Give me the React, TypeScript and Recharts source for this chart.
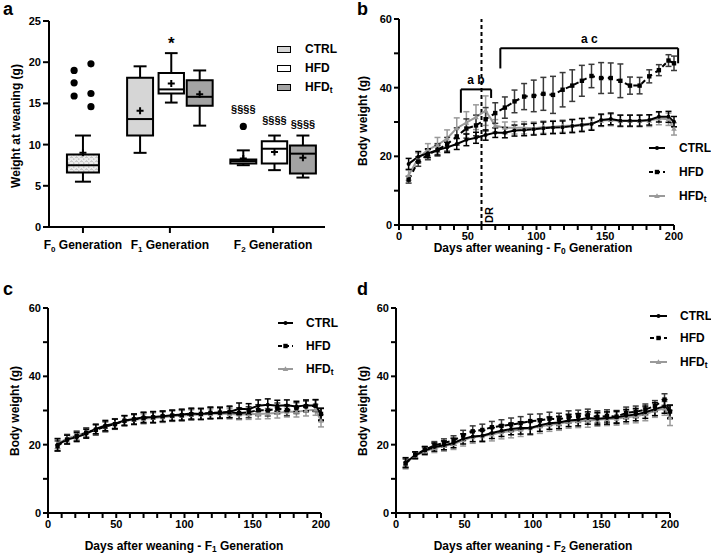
import React from 'react';
import {
  ComposedChart,
  LineChart,
  Line,
  XAxis,
  YAxis,
  ReferenceArea,
  ReferenceLine,
  Scatter,
  ErrorBar,
} from 'recharts';

const FONT = '"Liberation Sans", Arial, Helvetica, sans-serif';

// ---------- panel a: weight at weaning (box plots) ----------
const generations = ['F0', 'F1', 'F2'];

const boxStats = [
  { gen: 'F0', group: 'pooled', min: 5.5, q1: 6.6, median: 7.5, q3: 8.8, max: 11.1, mean: 9.0 },
  { gen: 'F1', group: 'CTRL', min: 9.0, q1: 11.1, median: 13.1, q3: 18.1, max: 19.5, mean: 14.1 },
  { gen: 'F1', group: 'HFD', min: 15.1, q1: 16.2, median: 16.7, q3: 18.7, max: 21.1, mean: 17.4 },
  { gen: 'F1', group: 'HFDt', min: 12.3, q1: 14.7, median: 15.8, q3: 17.8, max: 19.0, mean: 16.1 },
  { gen: 'F2', group: 'CTRL', min: 7.5, q1: 7.7, median: 8.0, q3: 8.2, max: 9.3, mean: 8.3 },
  { gen: 'F2', group: 'HFD', min: 6.9, q1: 7.7, median: 9.5, q3: 10.4, max: 11.1, mean: 9.1 },
  { gen: 'F2', group: 'HFDt', min: 6.0, q1: 6.5, median: 8.9, q3: 9.9, max: 11.1, mean: 8.4 },
];

const f0Outliers = [19.0, 17.5, 15.9, 19.8, 16.2, 14.6];
const f2CtrlOutliers = [12.2];

const significance = [
  { gen: 'F1', group: 'HFD', y: 22.6, text: '*' },
  { gen: 'F2', group: 'CTRL', y: 14.3, text: '§§§§' },
  { gen: 'F2', group: 'HFD', y: 13.0, text: '§§§§' },
  { gen: 'F2', group: 'HFDt', y: 12.5, text: '§§§§' },
];

// layout of the box plot on a 0..100 x scale
const genCenter: Record<string, number> = { F0: 12.3, F1: 43.8, F2: 81.2 };
const groupOffset: Record<string, number> = { pooled: 0, CTRL: -10.8, HFD: 0.5, HFDt: 10.8 };
const boxHalf: Record<string, number> = { pooled: 5.8, CTRL: 4.7, HFD: 4.6, HFDt: 4.7 };
const boxFill: Record<string, string> = {
  pooled: 'url(#f0dots)',
  CTRL: '#d6d6d6',
  HFD: '#ffffff',
  HFDt: '#a3a3a3',
};

// ---------- panels b-d: body weight curves ----------
const days = [7, 14, 21, 28, 35, 42, 49, 56, 63, 70, 77, 84, 91, 98, 105, 112, 119, 126, 133, 140, 147, 154, 161, 168, 175, 182, 189, 196, 200];
const dayTicks = [0, 10, 20, 30, 40, 50, 60, 70, 80, 90, 100, 110, 120, 130, 140, 150, 160, 170, 180, 190, 200];
const weightTicks = [0, 10, 20, 30, 40, 50, 60];

// F0
const ctrlF0 = [17.8, 19.9, 20.9, 21.8, 22.6, 23.6, 24.8, 25.4, 26.2, 26.9, 26.9, 27.5, 27.7, 27.9, 28.2, 28.4, 28.5, 28.8, 29.1, 29.4, 30.6, 30.9, 30.4, 30.4, 30.4, 30.6, 31.5, 31.5, 30.1];
const ctrlF0Err = [1.6, 1.5, 1.3, 1.4, 1.5, 1.6, 1.7, 1.6, 1.5, 1.4, 1.5, 1.6, 1.7, 1.7, 1.8, 1.8, 1.8, 1.9, 1.9, 1.8, 1.7, 1.7, 1.6, 1.6, 1.6, 1.5, 1.5, 1.6, 1.5];
const hfdF0 = [13.2, 18.5, 20.5, 21.9, 23.5, 25.8, 28.1, 29.0, 30.8, 32.6, 34.2, 36.0, 37.4, 37.6, 38.2, 37.9, 39.4, 40.6, 42.0, 43.4, 42.8, 42.8, 42.0, 40.6, 40.6, 43.3, 45.1, 47.9, 47.1];
const hfdF0Err = [1.0, 1.4, 1.5, 1.8, 2.0, 2.5, 2.8, 3.0, 3.4, 3.0, 3.1, 3.3, 3.8, 4.6, 4.8, 5.4, 5.0, 4.6, 4.5, 3.4, 4.5, 4.4, 4.9, 2.5, 2.4, 1.9, 1.6, 1.7, 2.1];
const hfdtF0 = [14.5, 19.5, 21.9, 23.3, 25.2, 28.2, 29.8, 31.4, 33.3, 28.9, 28.3, 28.3, 28.3, 28.2, 28.5, 28.6, 28.8, 29.0, 29.3, 29.6, 30.4, 30.6, 30.3, 30.3, 30.3, 30.4, 31.0, 30.8, 28.0];
const hfdtF0Err = [1.5, 1.5, 1.8, 2.2, 2.5, 3.0, 3.2, 3.6, 4.3, 1.8, 1.7, 1.8, 1.8, 1.8, 1.8, 1.8, 1.8, 1.8, 1.8, 1.8, 1.7, 1.7, 1.7, 1.7, 1.7, 1.7, 1.8, 1.8, 1.8];

// F1
const ctrlF1 = [20.0, 21.5, 22.2, 23.2, 24.6, 25.6, 26.1, 27.1, 27.5, 28.0, 28.1, 28.3, 28.6, 28.8, 29.1, 29.0, 29.3, 29.3, 29.6, 30.5, 30.4, 31.4, 31.7, 31.4, 31.5, 31.2, 31.5, 31.5, 28.8];
const ctrlF1Err = [1.8, 1.3, 1.3, 1.3, 1.4, 1.5, 1.4, 1.4, 1.5, 1.5, 1.6, 1.5, 1.5, 1.6, 1.6, 1.6, 1.7, 1.6, 1.7, 1.7, 1.6, 1.7, 1.7, 1.6, 1.6, 1.5, 1.6, 1.7, 1.8];
const hfdF1 = [19.6, 21.5, 22.5, 23.5, 24.3, 25.3, 26.0, 27.0, 27.4, 27.8, 28.0, 28.3, 28.5, 28.6, 28.9, 29.0, 29.3, 29.4, 29.5, 29.2, 29.5, 30.1, 30.0, 30.6, 30.1, 30.7, 31.2, 31.4, 29.0];
const hfdF1Err = [1.5, 1.3, 1.4, 1.4, 1.5, 1.5, 1.5, 1.5, 1.5, 1.6, 1.6, 1.6, 1.6, 1.6, 1.6, 1.6, 1.6, 1.6, 1.6, 1.6, 1.6, 1.6, 1.6, 1.6, 1.6, 1.6, 1.6, 1.7, 1.7];
const hfdtF1 = [20.2, 21.8, 22.7, 23.6, 24.5, 25.2, 26.2, 27.0, 27.3, 27.6, 27.8, 28.0, 28.3, 28.5, 28.7, 28.8, 29.0, 29.1, 29.0, 28.8, 28.9, 29.0, 29.1, 29.3, 29.6, 29.6, 30.0, 30.2, 27.0];
const hfdtF1Err = [1.4, 1.3, 1.3, 1.3, 1.4, 1.4, 1.4, 1.4, 1.4, 1.4, 1.5, 1.5, 1.5, 1.5, 1.5, 1.5, 1.5, 1.5, 1.5, 1.5, 1.5, 1.5, 1.5, 1.5, 1.5, 1.5, 1.6, 1.6, 1.8];

// F2
const ctrlF2 = [14.8, 16.9, 18.3, 19.3, 19.8, 20.5, 21.7, 22.4, 22.6, 23.4, 24.1, 24.6, 24.9, 24.9, 25.7, 26.3, 26.5, 27.1, 27.3, 27.8, 27.6, 27.8, 28.0, 28.5, 28.8, 29.5, 30.4, 31.2, 29.6];
const ctrlF2Err = [1.4, 1.0, 1.1, 1.2, 1.3, 1.4, 1.5, 1.5, 1.6, 1.6, 1.7, 1.7, 1.8, 1.8, 1.8, 1.8, 1.8, 1.8, 1.8, 1.8, 1.8, 1.8, 1.8, 1.8, 1.8, 1.8, 1.9, 2.0, 2.0];
const hfdF2 = [14.5, 17.0, 18.5, 19.8, 20.5, 21.2, 22.7, 23.9, 24.3, 25.1, 25.5, 25.9, 26.3, 26.9, 27.1, 27.6, 27.4, 28.1, 28.3, 28.6, 28.1, 28.4, 28.2, 29.3, 29.6, 30.3, 31.3, 33.2, 29.7];
const hfdF2Err = [1.3, 0.9, 1.0, 1.1, 1.2, 1.4, 1.5, 1.6, 1.7, 1.7, 1.8, 1.9, 1.9, 2.0, 1.9, 1.9, 1.8, 1.8, 1.8, 1.8, 1.8, 1.8, 1.8, 1.7, 1.7, 1.6, 1.6, 1.7, 1.8];
const hfdtF2 = [14.5, 16.8, 18.0, 19.0, 19.6, 20.2, 21.3, 22.2, 22.5, 23.0, 23.6, 24.0, 24.4, 24.8, 25.3, 25.8, 26.1, 26.7, 26.9, 27.0, 27.3, 27.5, 27.6, 28.0, 28.3, 28.9, 30.0, 30.6, 27.8];
const hfdtF2Err = [1.6, 1.0, 1.1, 1.3, 1.5, 1.6, 1.7, 1.8, 1.8, 1.9, 1.9, 2.0, 2.0, 2.0, 2.0, 1.9, 1.9, 1.9, 1.9, 1.9, 1.9, 1.9, 1.9, 1.9, 1.9, 1.9, 2.0, 2.0, 2.2];

// brackets and marks on panel b
const dietReversalDay = 60;
const brackets = [
  { text: 'a b', x1: 45, x2: 67, top: 39.5, leftEnd: 32.7, rightEnd: 37.0 },
  { text: 'a c', x1: 73.7, x2: 203, top: 51.5, leftEnd: 45.6, rightEnd: 47.1 },
];

const buildRows = (ctrl: number[], ctrlErr: number[], hfd: number[], hfdErr: number[], hfdt: number[], hfdtErr: number[]) =>
  days.map((day, i) => ({
    day,
    ctrl: ctrl[i],
    ctrlErr: ctrlErr[i],
    hfd: hfd[i],
    hfdErr: hfdErr[i],
    hfdt: hfdt[i],
    hfdtErr: hfdtErr[i],
  }));

const axisLine = { stroke: '#000', strokeWidth: 2 };
const tickStyle = { fontSize: 11, fontWeight: 700, fill: '#000', fontFamily: FONT };

const Sub = ({ children }: { children: React.ReactNode }) => (
  <sub style={{ fontSize: '0.7em', verticalAlign: '-0.25em', lineHeight: 0 }}>{children}</sub>
);

const CtrlDot = (props: any) => {
  const { cx, cy } = props;
  if (cx == null || cy == null) return null;
  return <circle cx={cx} cy={cy} r={2} fill="#000" />;
};

const HfdDot = (props: any) => {
  const { cx, cy } = props;
  if (cx == null || cy == null) return null;
  return <rect x={cx - 2.2} y={cy - 2.2} width={4.4} height={4.4} fill="#000" />;
};

const HfdtDot = (props: any) => {
  const { cx, cy } = props;
  if (cx == null || cy == null) return null;
  return <path d={`M${cx},${cy - 2.8}L${cx + 2.8},${cy + 2}L${cx - 2.8},${cy + 2}Z`} fill="#999" />;
};

const GenTick = (props: any) => {
  const { x, y, payload } = props;
  const gen = generations.find((g) => Math.abs(genCenter[g] - payload.value) < 0.01) || '';
  return (
    <text x={x} y={y + 14} textAnchor="middle" fontSize={12} fontWeight={700} fontFamily={FONT} fill="#000">
      F<tspan dy={3} fontSize={8}>{gen.slice(1)}</tspan>
      <tspan dy={-3}> Generation</tspan>
    </text>
  );
};

const PlusShape = (props: any) => {
  const { cx, cy } = props;
  return <path d={`M${cx - 3.5},${cy}h7M${cx},${cy - 3.5}v7`} stroke="#000" strokeWidth={2} />;
};

const OutlierShape = (props: any) => <circle cx={props.cx} cy={props.cy} r={3.6} fill="#000" />;

const SigShape = (props: any) => {
  const { cx, cy, payload } = props;
  const star = payload.text === '*';
  return (
    <text
      x={cx}
      y={star ? cy + 3 : cy}
      textAnchor="middle"
      dominantBaseline="central"
      fontSize={star ? 17 : 11}
      fontWeight={700}
      fontFamily={FONT}
      fill="#000"
    >
      {payload.text}
    </text>
  );
};

function WeaningPanel() {
  const pos = (b: { gen: string; group: string }) => genCenter[b.gen] + groupOffset[b.group];
  const meanPoints = boxStats.map((b) => ({ x: pos(b), y: b.mean }));
  const outlierPoints = [
    ...f0Outliers.map((v, i) => ({ x: genCenter.F0 + (i < 3 ? -3.2 : 2.9), y: v })),
    ...f2CtrlOutliers.map((v) => ({ x: genCenter.F2 + groupOffset.CTRL, y: v })),
  ];
  const sigPoints = significance.map((s) => ({ x: pos(s), y: s.y, text: s.text }));

  const boxParts = boxStats.flatMap((b, i) => {
    const c = pos(b);
    const h = boxHalf[b.group];
    const cap = h / 2;
    const line = { stroke: '#000', strokeWidth: 2 };
    return [
      <ReferenceLine key={`wl${i}`} segment={[{ x: c, y: b.min }, { x: c, y: b.q1 }]} {...line} />,
      <ReferenceLine key={`wu${i}`} segment={[{ x: c, y: b.q3 }, { x: c, y: b.max }]} {...line} />,
      <ReferenceLine key={`cl${i}`} segment={[{ x: c - cap, y: b.min }, { x: c + cap, y: b.min }]} {...line} />,
      <ReferenceLine key={`cu${i}`} segment={[{ x: c - cap, y: b.max }, { x: c + cap, y: b.max }]} {...line} />,
      <ReferenceArea
        key={`bx${i}`}
        x1={c - h}
        x2={c + h}
        y1={b.q1}
        y2={b.q3}
        fill={boxFill[b.group]}
        fillOpacity={1}
        stroke="#000"
        strokeWidth={2}
      />,
      <ReferenceLine key={`md${i}`} segment={[{ x: c - h, y: b.median }, { x: c + h, y: b.median }]} {...line} />,
    ];
  });

  return (
    <ComposedChart width={355} height={275} margin={{ top: 21, right: 30, bottom: 18, left: 0 }}>
      <XAxis
        type="number"
        dataKey="x"
        domain={[0, 100]}
        ticks={generations.map((g) => genCenter[g])}
        tick={<GenTick />}
        axisLine={axisLine}
        tickLine={axisLine}
        tickSize={6}
        interval={0}
        height={30}
      />
      <YAxis
        type="number"
        dataKey="y"
        domain={[0, 25]}
        ticks={[0, 5, 10, 15, 20, 25]}
        width={49}
        axisLine={axisLine}
        tickLine={axisLine}
        tickSize={6}
        tick={tickStyle}
        interval={0}
      />
      {boxParts}
      <Scatter data={meanPoints} shape={<PlusShape />} isAnimationActive={false} />
      <Scatter data={outlierPoints} shape={<OutlierShape />} isAnimationActive={false} />
      <Scatter data={sigPoints} shape={<SigShape />} isAnimationActive={false} />
    </ComposedChart>
  );
}

type CurveProps = {
  rows: ReturnType<typeof buildRows>;
  margin: { top: number; right: number; bottom: number; left: number };
  yWidth: number;
  children?: React.ReactNode;
};

function CurvePanel({ rows, margin, yWidth, children }: CurveProps) {
  return (
    <LineChart width={355} height={275} data={rows} margin={margin}>
      <XAxis
        type="number"
        dataKey="day"
        domain={[0, 200]}
        ticks={dayTicks}
        interval={0}
        tickFormatter={(v: number) => (v % 50 === 0 ? String(v) : '')}
        axisLine={axisLine}
        tickLine={axisLine}
        tickSize={5}
        tick={tickStyle}
        height={30}
      />
      <YAxis
        type="number"
        domain={[0, 60]}
        ticks={weightTicks}
        interval={0}
        tickFormatter={(v: number) => (v % 20 === 0 ? String(v) : '')}
        width={yWidth}
        axisLine={axisLine}
        tickLine={axisLine}
        tickSize={5}
        tick={tickStyle}
      />
      {children}
      <Line
        dataKey="hfdt"
        stroke="#9a9a9a"
        strokeWidth={2}
        dot={<HfdtDot />}
        activeDot={false}
        isAnimationActive={false}
      >
        <ErrorBar dataKey="hfdtErr" width={3} stroke="#9a9a9a" strokeWidth={1.5} direction="y" />
      </Line>
      <Line
        dataKey="hfd"
        stroke="#000"
        strokeWidth={2}
        strokeDasharray="5 4"
        dot={<HfdDot />}
        activeDot={false}
        isAnimationActive={false}
      >
        <ErrorBar dataKey="hfdErr" width={3} stroke="#3a3a3a" strokeWidth={1.5} direction="y" />
      </Line>
      <Line
        dataKey="ctrl"
        stroke="#000"
        strokeWidth={2}
        dot={<CtrlDot />}
        activeDot={false}
        isAnimationActive={false}
      >
        <ErrorBar dataKey="ctrlErr" width={3} stroke="#000" strokeWidth={1.5} direction="y" />
      </Line>
    </LineChart>
  );
}

const LegendIcon = ({ kind, w }: { kind: string; w: number }) => {
  const m = w / 2;
  return (
    <svg width={w} height={8} style={{ display: 'block' }}>
      {kind === 'CTRL' && (
        <>
          <line x1={0} y1={4} x2={w} y2={4} stroke="#000" strokeWidth={2} />
          <circle cx={m} cy={4} r={2} fill="#000" />
        </>
      )}
      {kind === 'HFD' && (
        <>
          <line x1={0} y1={4} x2={w} y2={4} stroke="#000" strokeWidth={2} strokeDasharray="4 3" />
          <rect x={m - 2.2} y={1.8} width={4.4} height={4.4} fill="#000" />
        </>
      )}
      {kind === 'HFDt' && (
        <>
          <line x1={0} y1={4} x2={w} y2={4} stroke="#9a9a9a" strokeWidth={2} />
          <path d={`M${m},1.2L${m + 2.8},6L${m - 2.8},6Z`} fill="#9a9a9a" />
        </>
      )}
    </svg>
  );
};

const seriesLabel = (name: string) =>
  name === 'HFDt' ? (
    <>
      HFD<Sub>t</Sub>
    </>
  ) : (
    name
  );

const LineLegend = ({ left, textLeft, tops, w }: { left: number; textLeft: number; tops: number[]; w: number }) => (
  <>
    {['CTRL', 'HFD', 'HFDt'].map((name, i) => (
      <React.Fragment key={name}>
        <div style={{ position: 'absolute', left, top: tops[i] - 4 }}>
          <LegendIcon kind={name} w={w} />
        </div>
        <div style={{ position: 'absolute', left: textLeft, top: tops[i] - 8, fontSize: 12, fontWeight: 700, lineHeight: '16px' }}>
          {seriesLabel(name)}
        </div>
      </React.Fragment>
    ))}
  </>
);

const Abs = ({ left, top, children, style }: { left: number; top: number; children: React.ReactNode; style?: React.CSSProperties }) => (
  <div style={{ position: 'absolute', left, top, ...style }}>{children}</div>
);

const YTitle = ({ cx, cy, text }: { cx: number; cy: number; text: string }) => (
  <div
    style={{
      position: 'absolute',
      left: cx - 100,
      top: cy - 8,
      width: 200,
      height: 16,
      lineHeight: '16px',
      textAlign: 'center',
      fontSize: 12,
      fontWeight: 700,
      transform: 'rotate(-90deg)',
      whiteSpace: 'nowrap',
    }}
  >
    {text}
  </div>
);

const XTitle = ({ cx, top, gen }: { cx: number; top: number; gen: string }) => (
  <div
    style={{
      position: 'absolute',
      left: cx - 150,
      top,
      width: 300,
      textAlign: 'center',
      fontSize: 12,
      fontWeight: 700,
      whiteSpace: 'pre',
    }}
  >
    Days after weaning - F<Sub>{gen}</Sub> Generation
  </div>
);

export default function App() {
  const rowsF0 = buildRows(ctrlF0, ctrlF0Err, hfdF0, hfdF0Err, hfdtF0, hfdtF0Err);
  const rowsF1 = buildRows(ctrlF1, ctrlF1Err, hfdF1, hfdF1Err, hfdtF1, hfdtF1Err);
  const rowsF2 = buildRows(ctrlF2, ctrlF2Err, hfdF2, hfdF2Err, hfdtF2, hfdtF2Err);

  const bracketLine = { stroke: '#000', strokeWidth: 2, ifOverflow: 'visible' as const };

  return (
    <div
      style={{
        position: 'absolute',
        left: 0,
        top: 0,
        width: 711,
        height: 555,
        background: '#fff',
        fontFamily: FONT,
        color: '#000',
        overflow: 'hidden',
      }}
    >
      <svg width={0} height={0} style={{ position: 'absolute' }}>
        <defs>
          <pattern id="f0dots" width={5} height={4} patternUnits="userSpaceOnUse">
            <rect width={5} height={4} fill="#ececec" />
            <path d="M0.5,1.5 q1,-1 2,0" stroke="#8a8a8a" strokeWidth={0.8} fill="none" />
            <circle cx={3.8} cy={3} r={0.6} fill="#8a8a8a" />
          </pattern>
        </defs>
      </svg>

      {/* a: weight at weaning */}
      <Abs left={0} top={0}>
        <WeaningPanel />
      </Abs>
      <Abs left={3} top={-1} style={{ fontSize: 18, fontWeight: 700 }}>a</Abs>
      <YTitle cx={16} cy={126} text="Weight at weaning (g)" />
      {['CTRL', 'HFD', 'HFDt'].map((name, i) => (
        <React.Fragment key={name}>
          <div
            style={{
              position: 'absolute',
              left: 277,
              top: [49.3, 68.3, 87.3][i] - 3,
              width: 12,
              height: 5,
              border: '1.5px solid #000',
              background: boxFill[name],
            }}
          />
          <div style={{ position: 'absolute', left: 305, top: [49.3, 68.3, 87.3][i] - 8, fontSize: 12, fontWeight: 700, lineHeight: '16px' }}>
            {seriesLabel(name)}
          </div>
        </React.Fragment>
      ))}

      {/* b: F0 body weight */}
      <Abs left={355} top={0}>
        <CurvePanel rows={rowsF0} margin={{ top: 19, right: 36, bottom: 20, left: 0 }} yWidth={44}>
          <ReferenceLine
            x={dietReversalDay}
            stroke="#000"
            strokeWidth={2}
            strokeDasharray="4 3"
            label={(p: any) => {
              const vb = p.viewBox || {};
              const x = vb.x + 7;
              const y = vb.y + vb.height - 2;
              return (
                <text x={x} y={y} transform={`rotate(-90 ${x} ${y})`} fontSize={11} fontWeight={700} fontFamily={FONT} fill="#000" dominantBaseline="central">
                  DR
                </text>
              );
            }}
          />
          {brackets.flatMap((b, i) => [
            <ReferenceLine
              key={`bt${i}`}
              segment={[{ x: b.x1, y: b.top }, { x: b.x2, y: b.top }]}
              {...bracketLine}
              label={{ value: b.text, position: 'top', offset: 5, fontSize: 12, fontWeight: 700, fill: '#000', fontFamily: FONT }}
            />,
            <ReferenceLine key={`bl${i}`} segment={[{ x: b.x1, y: b.top }, { x: b.x1, y: b.leftEnd }]} {...bracketLine} />,
            <ReferenceLine key={`br${i}`} segment={[{ x: b.x2, y: b.top }, { x: b.x2, y: b.rightEnd }]} {...bracketLine} />,
          ])}
        </CurvePanel>
      </Abs>
      <Abs left={357} top={-1} style={{ fontSize: 18, fontWeight: 700 }}>b</Abs>
      <YTitle cx={363} cy={121} text="Body weight (g)" />
      <XTitle cx={533} top={241} gen="0" />
      <LineLegend left={649} textLeft={679} tops={[148, 172, 196]} w={16} />

      {/* c: F1 body weight */}
      <Abs left={0} top={280}>
        <CurvePanel rows={rowsF1} margin={{ top: 28, right: 34, bottom: 12, left: 0 }} yWidth={48} />
      </Abs>
      <Abs left={3} top={279} style={{ fontSize: 18, fontWeight: 700 }}>c</Abs>
      <YTitle cx={15} cy={411} text="Body weight (g)" />
      <XTitle cx={184} top={539} gen="1" />
      <LineLegend left={278} textLeft={306} tops={[323, 346, 369]} w={15} />

      {/* d: F2 body weight */}
      <Abs left={355} top={280}>
        <CurvePanel rows={rowsF2} margin={{ top: 28, right: 40, bottom: 12, left: 0 }} yWidth={41} />
      </Abs>
      <Abs left={357} top={279} style={{ fontSize: 18, fontWeight: 700 }}>d</Abs>
      <YTitle cx={363} cy={411} text="Body weight (g)" />
      <XTitle cx={533} top={539} gen="2" />
      <LineLegend left={650} textLeft={680} tops={[316, 338, 362]} w={17} />
    </div>
  );
}
